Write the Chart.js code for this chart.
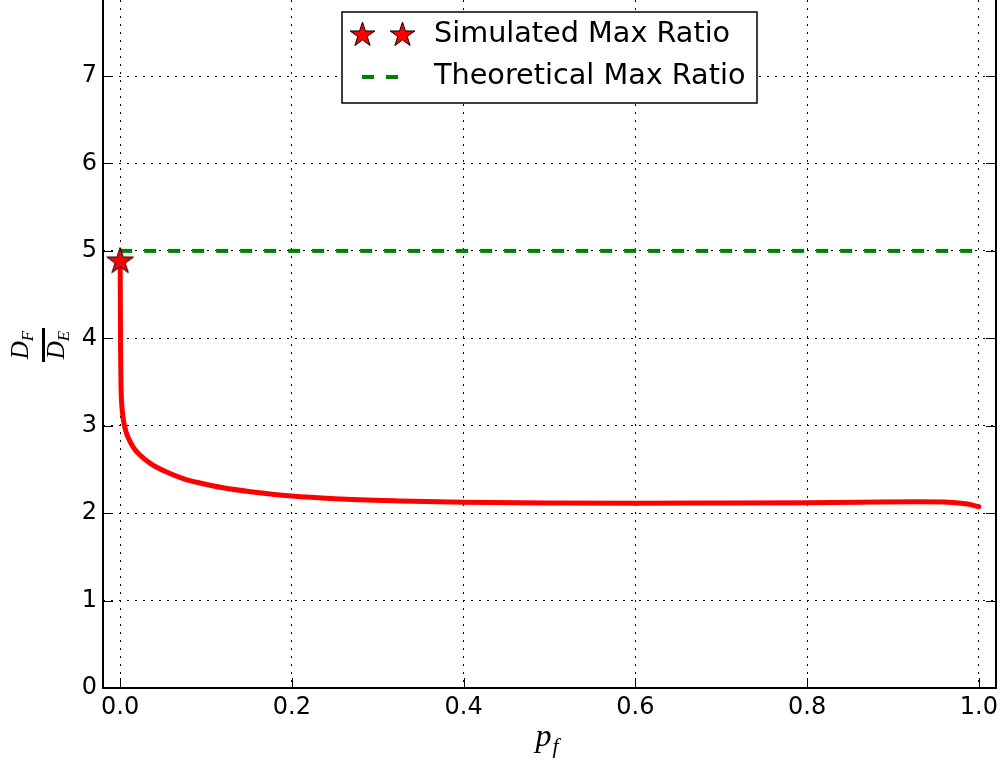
<!DOCTYPE html>
<html>
<head>
<meta charset="utf-8">
<script src="https://cdn.jsdelivr.net/npm/chart.js@4.4.1/dist/chart.umd.min.js"></script>
<style>
  html, body { margin: 0; padding: 0; background: #fff; }
</style>
</head>
<body>
<canvas id="ratioChart" width="1004" height="769"></canvas>
<script>
// simulated D_F / D_E ratio against p_f
const curveX = [0, 0.0002, 0.0005, 0.001, 0.0015, 0.002, 0.003, 0.005, 0.0075, 0.01, 0.0155,
                0.023, 0.035, 0.054, 0.075, 0.093, 0.12, 0.152, 0.2, 0.25, 0.326, 0.4, 0.5, 0.6, 0.7,
                0.8, 0.86, 0.93, 0.96, 0.987, 1.0];
const curveY = [4.88, 4.4, 3.85, 3.45, 3.3, 3.22, 3.12, 3.0, 2.91, 2.85, 2.75,
                2.665, 2.57, 2.47, 2.39, 2.345, 2.29, 2.245, 2.195, 2.165, 2.14, 2.124, 2.115, 2.113, 2.116,
                2.12, 2.124, 2.13, 2.128, 2.104, 2.073];

// max points
const simMaxX = [0];
const simMaxY = [4.88];
const theoryX = [0, 1];
const theoryY = [5, 5];

const xTicks = [0, 0.2, 0.4, 0.6, 0.8, 1.0];
const yTicks = [0, 1, 2, 3, 4, 5, 6, 7];
const legendLabels = ['Simulated Max Ratio', 'Theoretical Max Ratio'];

const RED = '#ff0000';
const GREEN = '#008000';

function starPath(ctx, cx, cy, R) {
  const r = R * 0.382;
  ctx.beginPath();
  for (let i = 0; i < 10; i++) {
    const rad = i % 2 === 0 ? R : r;
    const a = -Math.PI / 2 + i * Math.PI / 5;
    const px = cx + rad * Math.cos(a);
    const py = cy + rad * Math.sin(a);
    if (i === 0) ctx.moveTo(px, py); else ctx.lineTo(px, py);
  }
  ctx.closePath();
}

function drawStar(ctx, cx, cy, R) {
  starPath(ctx, cx, cy, R);
  ctx.fillStyle = RED;
  ctx.fill();
  ctx.lineWidth = 1;
  ctx.strokeStyle = '#000';
  ctx.stroke();
}

// marker image for the scatter point
const starImg = document.createElement('canvas');
starImg.width = 32;
starImg.height = 32;
drawStar(starImg.getContext('2d'), 16, 16, 14);

const toPoints = (xs, ys) => xs.map((v, i) => ({ x: v, y: ys[i] }));

const decorations = {
  id: 'decorations',
  afterDraw(chart) {
    const { ctx, chartArea: a, scales: { x, y } } = chart;
    ctx.save();

    // inward tick marks
    ctx.strokeStyle = '#000';
    ctx.lineWidth = 1;
    ctx.beginPath();
    x.ticks.forEach(t => {
      const px = Math.round(x.getPixelForValue(t.value)) + 0.5;
      ctx.moveTo(px, a.bottom);
      ctx.lineTo(px, a.bottom - 10);
    });
    y.ticks.forEach(t => {
      const py = Math.round(y.getPixelForValue(t.value)) + 0.5;
      ctx.moveTo(a.left, py);
      ctx.lineTo(a.left + 10, py);
      ctx.moveTo(a.right, py);
      ctx.lineTo(a.right - 10, py);
    });
    ctx.stroke();

    // spines
    ctx.lineWidth = 2;
    ctx.beginPath();
    ctx.moveTo(a.left, a.top);
    ctx.lineTo(a.left, a.bottom);
    ctx.lineTo(a.right, a.bottom);
    ctx.lineTo(a.right, a.top);
    ctx.stroke();

    // legend
    const lx = 342, ly = 12, lw = 415, lh = 91;
    ctx.fillStyle = '#fff';
    ctx.fillRect(lx, ly, lw, lh);
    ctx.lineWidth = 1.5;
    ctx.strokeStyle = '#000';
    ctx.strokeRect(lx, ly, lw, lh);
    drawStar(ctx, 362.5, 35, 13);
    drawStar(ctx, 402.5, 35, 13);
    ctx.save();
    ctx.strokeStyle = GREEN;
    ctx.lineWidth = 4;
    ctx.setLineDash([12, 12]);
    ctx.beginPath();
    ctx.moveTo(362, 77);
    ctx.lineTo(398, 77);
    ctx.stroke();
    ctx.restore();
    ctx.fillStyle = '#000';
    ctx.font = '28.7px "DejaVu Sans"';
    ctx.textBaseline = 'middle';
    ctx.textAlign = 'left';
    ctx.fillText(legendLabels[0], 434, 35);
    ctx.fillText(legendLabels[1], 434, 77);

    // x title p_f
    const pFont = 'italic 32px "Liberation Serif"';
    const sFont = 'italic 22px "Liberation Serif"';
    ctx.font = pFont;
    const pw = ctx.measureText('p').width;
    ctx.font = sFont;
    const fw = ctx.measureText('f').width;
    const x0 = 547 - (pw + fw + 1) / 2;
    ctx.textBaseline = 'alphabetic';
    ctx.font = pFont;
    ctx.fillText('p', x0, 746);
    ctx.font = sFont;
    ctx.fillText('f', x0 + pw + 1, 753);

    // y title D_F / D_E
    ctx.translate(43.5, 345);
    ctx.rotate(-Math.PI / 2);
    ctx.fillRect(-17, -1.5, 34, 3);
    const dFont = 'italic 25px "Liberation Serif"';
    const subFont = 'italic 17px "Liberation Serif"';
    const frac = (main, sub, base) => {
      ctx.font = dFont;
      const mw = ctx.measureText(main).width;
      ctx.font = subFont;
      const sw = ctx.measureText(sub).width;
      const sx = -(mw + sw) / 2;
      ctx.font = dFont;
      ctx.fillText(main, sx, base);
      ctx.font = subFont;
      ctx.fillText(sub, sx + mw, base + 5);
    };
    frac('D', 'F', -15.5);
    frac('D', 'E', 20.5);

    ctx.restore();
  }
};

Chart.defaults.font.family = '"DejaVu Sans"';
Chart.defaults.color = '#000';

new Chart(document.getElementById('ratioChart'), {
  type: 'scatter',
  data: {
    datasets: [
      {
        label: legendLabels[0],
        data: toPoints(simMaxX, simMaxY),
        pointStyle: starImg,
        pointRadius: 14,
        showLine: false
      },
      {
        label: legendLabels[1],
        data: toPoints(theoryX, theoryY),
        showLine: true,
        borderColor: GREEN,
        borderWidth: 4,
        borderDash: [12, 12],
        borderCapStyle: 'butt',
        pointRadius: 0
      },
      {
        label: 'curve',
        data: toPoints(curveX, curveY),
        showLine: true,
        borderColor: RED,
        borderWidth: 5,
        borderCapStyle: 'round',
        borderJoinStyle: 'round',
        cubicInterpolationMode: 'monotone',
        pointRadius: 0
      }
    ]
  },
  options: {
    responsive: false,
    animation: false,
    devicePixelRatio: 1,
    layout: { autoPadding: false, padding: { top: 0, right: 8, left: 0, bottom: 0 } },
    plugins: {
      legend: { display: false },
      tooltip: { enabled: false }
    },
    scales: {
      x: {
        type: 'linear',
        min: -0.02,
        max: 1.02,
        afterBuildTicks: s => { s.ticks = xTicks.map(v => ({ value: v })); },
        afterFit: s => { s.height = 81; s.paddingLeft = 0; s.paddingRight = 0; },
        ticks: {
          color: '#000',
          font: { size: 24 },
          padding: 5,
          maxRotation: 0,
          callback: v => v.toFixed(1)
        },
        grid: { color: '#000', lineWidth: 1, drawTicks: false },
        border: { display: false, dash: [2, 6] }
      },
      y: {
        type: 'linear',
        min: 0,
        max: 7.87,
        afterBuildTicks: s => { s.ticks = yTicks.map(v => ({ value: v })); },
        afterFit: s => { s.width = 103; s.paddingTop = 0; s.paddingBottom = 0; },
        ticks: {
          color: '#000',
          font: { size: 24 },
          padding: 6,
          callback: v => String(v)
        },
        grid: { color: '#000', lineWidth: 1, drawTicks: false },
        border: { display: false, dash: [2, 6] }
      }
    }
  },
  plugins: [decorations]
});
</script>
</body>
</html>
